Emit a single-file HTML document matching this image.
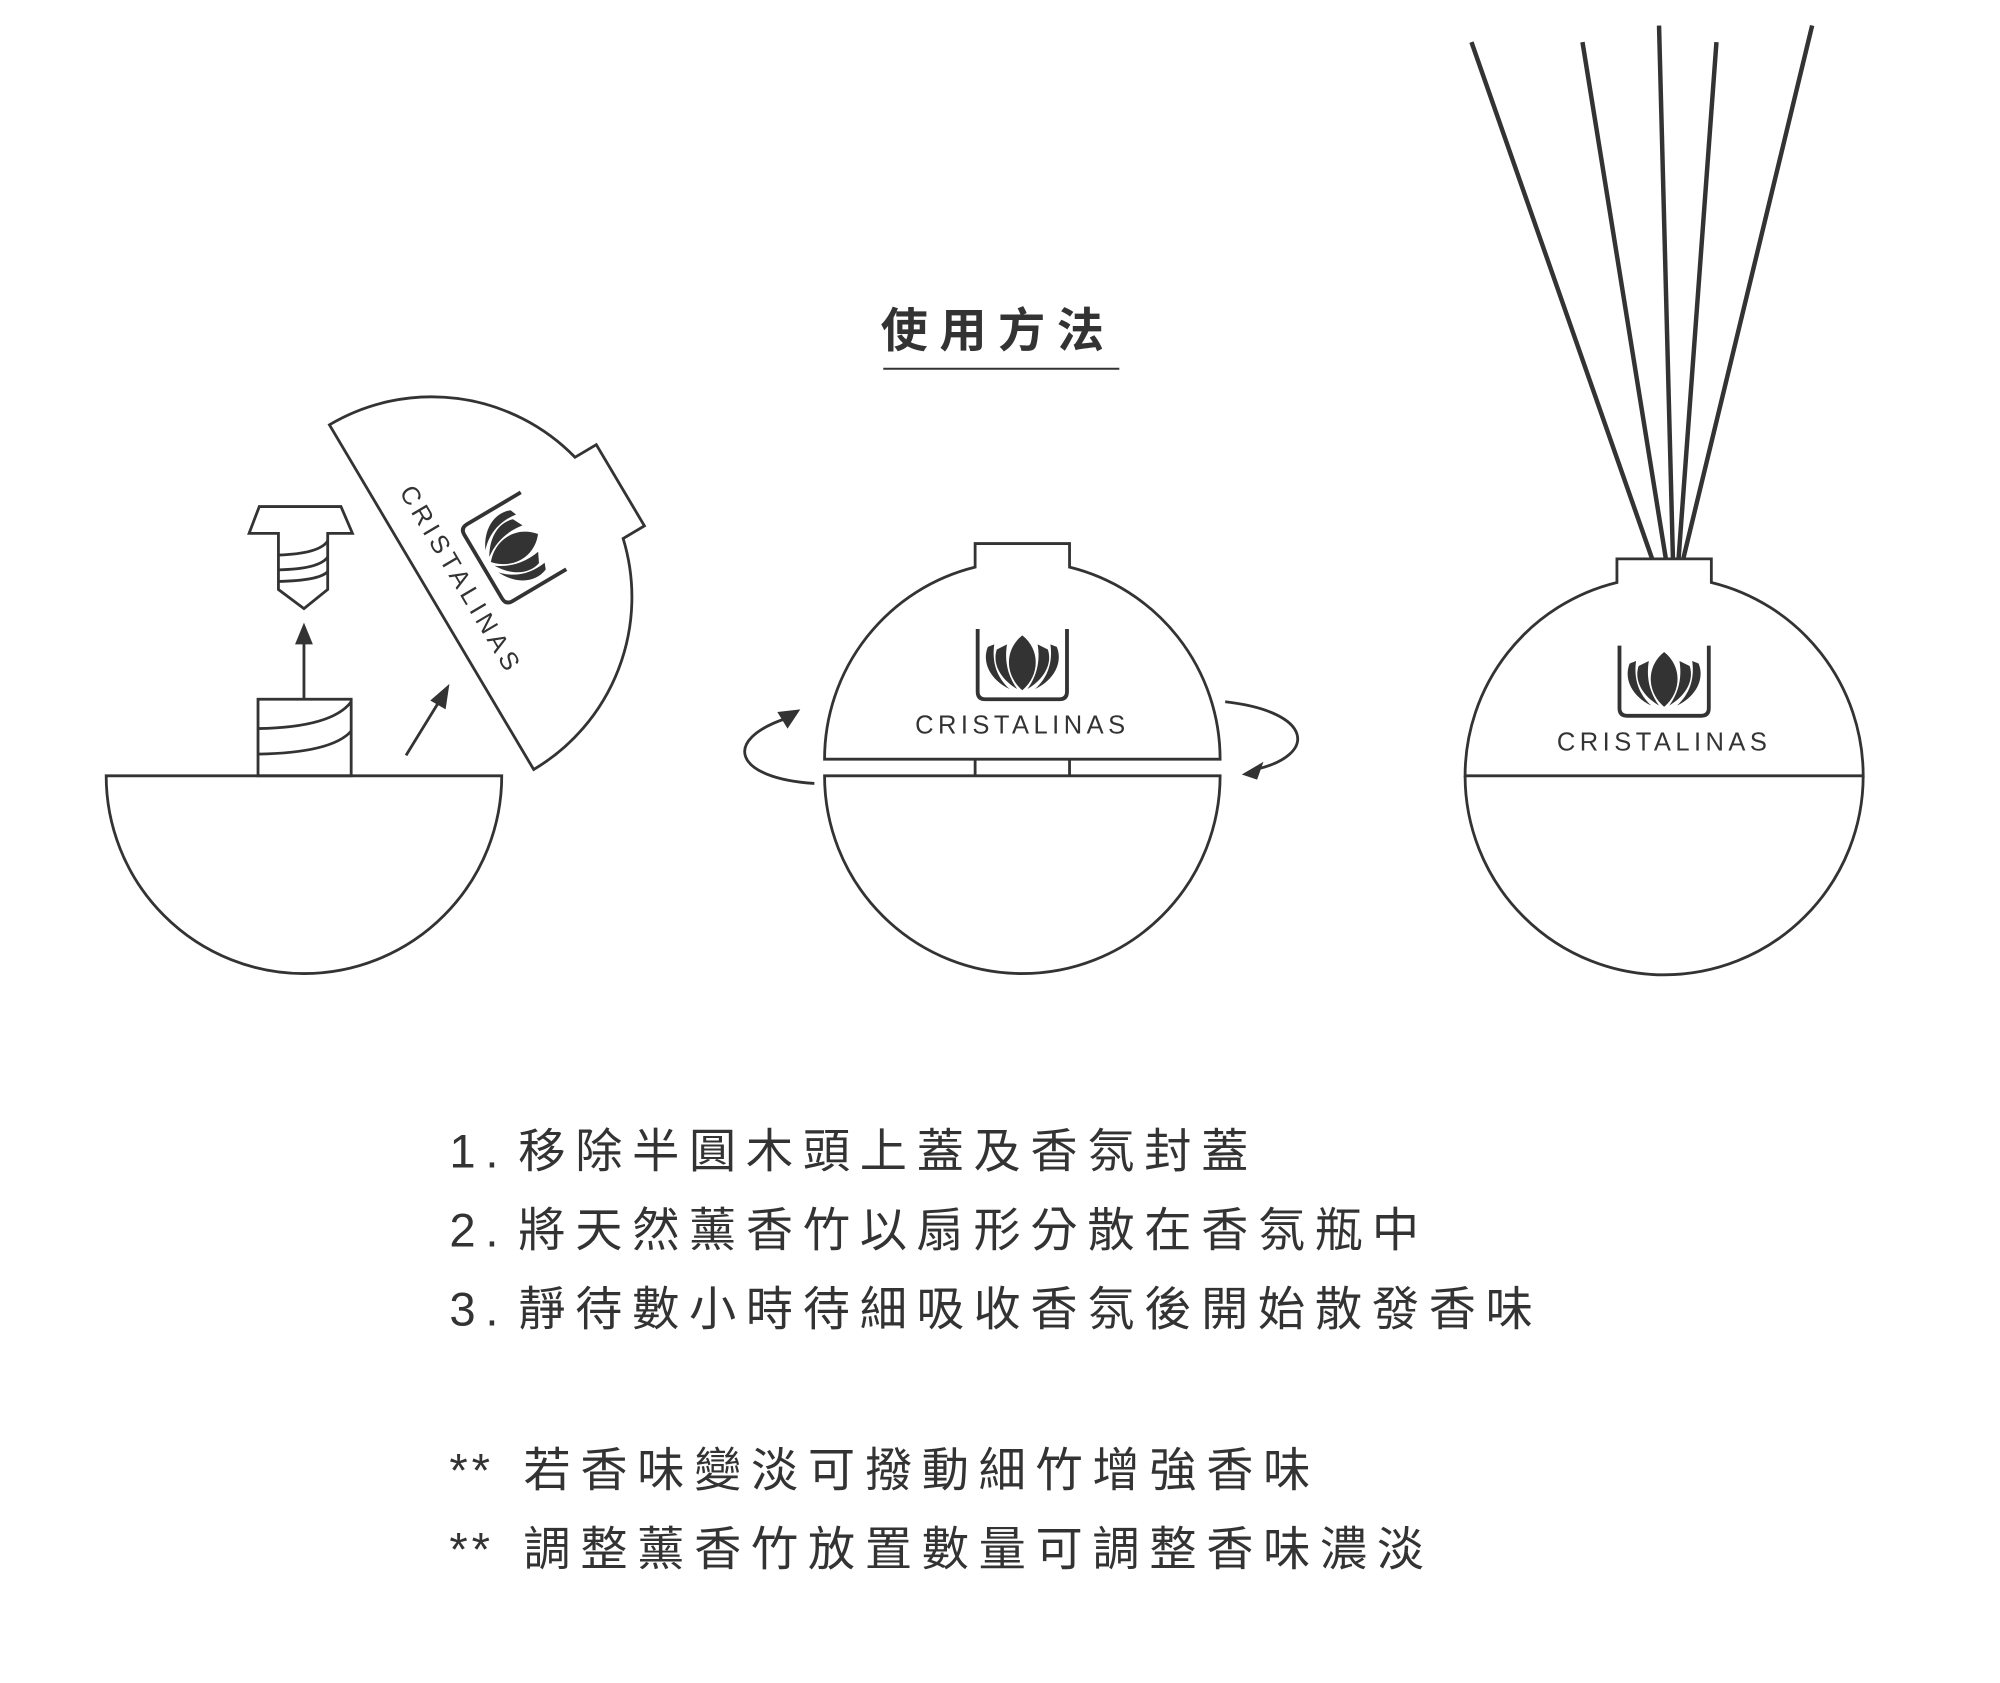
<!DOCTYPE html>
<html><head><meta charset="utf-8"><style>
html,body{margin:0;padding:0;background:#fff;}
svg{display:block;}
.t{font-family:"Liberation Sans","Noto Sans CJK TC",sans-serif;fill:#333;}
</style></head><body>
<svg width="2000" height="1683" viewBox="0 0 1567 1319" xmlns="http://www.w3.org/2000/svg">
<defs>
<g id="lotus">
  <path d="M-35,-102 L-35,-53 Q-35,-47 -29,-47 L29,-47 Q35,-47 35,-53 L35,-102" fill="none" stroke="#333" stroke-width="3"/>
  <path d="M-27,-88 C-32,-76 -25,-62 -10,-55 C-20,-64 -24,-76 -22,-90 Z" fill="#333"/>
  <path d="M27,-88 C32,-76 25,-62 10,-55 C20,-64 24,-76 22,-90 Z" fill="#333"/>
  <path d="M-20,-86 C-24,-74 -16,-62 -4,-55 C-12,-66 -14,-78 -12,-90 Z" fill="#333"/>
  <path d="M20,-86 C24,-74 16,-62 4,-55 C12,-66 14,-78 12,-90 Z" fill="#333"/>
  <path d="M0,-97 C-14,-86 -14,-66 0,-54 C14,-66 14,-86 0,-97 Z" fill="#333"/>
</g>
</defs>
<g fill="none" stroke="#333" stroke-width="2.2">
  <path d="M83,608 L393,608 A155,155 0 0 1 83,608 Z" fill="#fff"/>
  <rect x="202" y="548" width="73" height="60"/>
  <path d="M202,571 Q260,570 275,550"/>
  <path d="M202,591 Q260,590 275,573"/>
  <path d="M203,397 L267,397 L276,418 L256.6,418 L256.6,462 L238,477 L218,462 L218,418 L195,418 Z"/>
  <path d="M218,435 Q250,434 256.6,424"/>
  <path d="M218,446.6 Q250,446 256.6,436.6"/>
  <path d="M218,455.7 Q250,455 256.6,448"/>
  <line x1="238" y1="548" x2="238" y2="500"/>
  <line x1="318" y1="592" x2="345" y2="548"/>
</g>
<path d="M238,488 L231,505 L245,505 Z" fill="#333"/>
<path d="M352,536 L337,549 L349,556 Z" fill="#333"/>
<g transform="translate(338,468) rotate(59.35)">
  <path d="M-157,0 L157,0 A157,157 0 0 0 37,-152.6 L37,-172 L-37,-172 L-37,-152.6 A157,157 0 0 0 -157,0 Z" fill="#fff" stroke="#333" stroke-width="2.2"/>
  <use href="#lotus"/>
  <text class="t" x="0" y="-20" font-size="20" letter-spacing="3.5" text-anchor="middle">CRISTALINAS</text>
</g>
<g transform="translate(801,595)">
  <path d="M-155,0 L155,0 A155,155 0 0 0 37,-150.5 L37,-169 L-37,-169 L-37,-150.5 A155,155 0 0 0 -155,0 Z" fill="#fff" stroke="#333" stroke-width="2.2"/>
  <use href="#lotus"/>
  <text class="t" x="0" y="-20" font-size="20" letter-spacing="3.5" text-anchor="middle">CRISTALINAS</text>
</g>
<g fill="none" stroke="#333" stroke-width="2.2">
  <path d="M646,608 L956,608 A155,155 0 0 1 646,608 Z"/>
  <line x1="764" y1="595" x2="764" y2="608"/>
  <line x1="838" y1="595" x2="838" y2="608"/>
  <path d="M638,614 C575,610 565,580 616,563"/>
  <path d="M960,550 C1030,558 1032,592 984,603"/>
</g>
<path d="M627,556 L609,558 L617,571 Z" fill="#333"/>
<path d="M973,607 L990,597 L985,611 Z" fill="#333"/>
<g stroke="#333" stroke-width="3.5" fill="none">
  <line x1="1153" y1="33" x2="1296" y2="442"/>
  <line x1="1240" y1="33" x2="1306" y2="442"/>
  <line x1="1300" y1="20" x2="1311" y2="442"/>
  <line x1="1345" y1="33" x2="1315" y2="442"/>
  <line x1="1420" y1="20" x2="1318" y2="442"/>
</g>
<g transform="translate(1304,608)">
  <path d="M-156,0 L156,0 A156,156 0 0 0 37,-151.5 L37,-170 L-37,-170 L-37,-151.5 A156,156 0 0 0 -156,0 Z" fill="#fff" stroke="#333" stroke-width="2.2"/>
  <use href="#lotus"/>
  <text class="t" x="0" y="-20" font-size="20" letter-spacing="3.5" text-anchor="middle">CRISTALINAS</text>
  <path d="M-156,0 A156,156 0 0 0 156,0" fill="none" stroke="#333" stroke-width="2.2"/>
</g>
<text class="t" x="690" y="272" font-size="37" font-weight="bold" letter-spacing="9">使用方法</text>
<line x1="692" y1="289" x2="877" y2="289" stroke="#333" stroke-width="1.5"/>
<g class="t" font-size="37" letter-spacing="7.6">
<text x="352" y="915">1.</text><text x="406" y="915">移除半圓木頭上蓋及香氛封蓋</text>
<text x="352" y="977">2.</text><text x="406" y="977">將天然薰香竹以扇形分散在香氛瓶中</text>
<text x="352" y="1039">3.</text><text x="406" y="1039">靜待數小時待細吸收香氛後開始散發香味</text>
<text x="352" y="1165" letter-spacing="3">**</text><text x="410" y="1165">若香味變淡可撥動細竹增強香味</text>
<text x="352" y="1227" letter-spacing="3">**</text><text x="410" y="1227">調整薰香竹放置數量可調整香味濃淡</text>
</g>
</svg>
</body></html>
